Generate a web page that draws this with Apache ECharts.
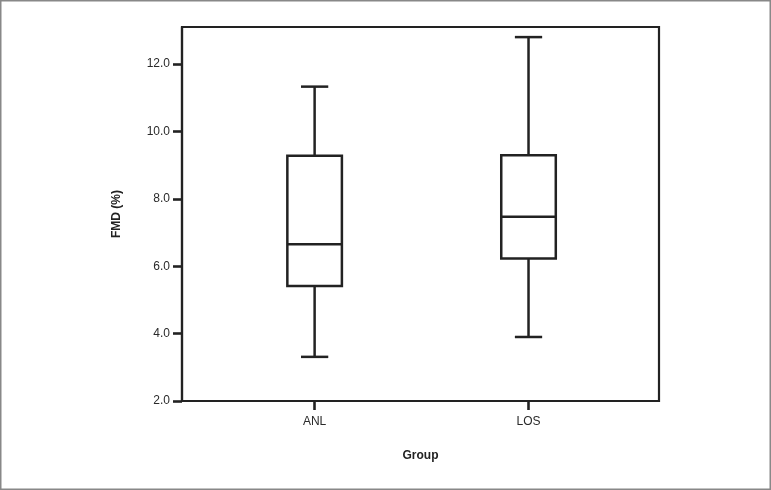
<!DOCTYPE html>
<html>
<head>
<meta charset="utf-8">
<script src="https://cdn.jsdelivr.net/npm/echarts@6/dist/echarts.min.js"></script>
<style>html,body{margin:0;padding:0;background:#fff;}#c{width:771px;height:490px;}</style>
</head>
<body>
<div id="c"></div>
<script>
var categories = ['ANL', 'LOS'];
// [min, Q1, median, Q3, max]
var anlValues = [3.31, 5.41, 6.65, 9.28, 11.33];
var losValues = [3.90, 6.23, 7.47, 9.29, 12.80];
var yTicks = [2, 4, 6, 8, 10, 12];

var boxData = [[0].concat(anlValues), [1].concat(losValues)];

var chart = echarts.init(document.getElementById('c'));
var stroke = '#222';
chart.setOption({
  animation: false,
  backgroundColor: '#fff',
  graphic: [{
    type: 'rect', x: 0, y: 0,
    shape: {x: 0.75, y: 0.75, width: 769.5, height: 488.5},
    style: {fill: 'none', stroke: '#888', lineWidth: 1.5}, silent: true, z: -10
  }],
  grid: {left: 182, top: 27, right: 112, bottom: 89, show: true, borderColor: stroke, borderWidth: 2.2, backgroundColor: 'transparent'},
  xAxis: {
    type: 'value', min: -0.62, max: 1.61,
    name: 'Group', nameLocation: 'middle', nameGap: 49,
    nameTextStyle: {fontFamily: 'Liberation Sans', fontWeight: 'bold', fontSize: 12, color: '#222'},
    axisLine: {show: true, onZero: false, lineStyle: {color: stroke, width: 2.2}},
    axisTick: {show: true, length: 9, customValues: [0, 1], lineStyle: {color: stroke, width: 2.6}},
    axisLabel: {customValues: [0, 1], margin: 15, fontFamily: 'Liberation Sans', fontSize: 12, color: '#2a2a2a',
      formatter: function (v) { return categories[Math.round(v)] || ''; }},
    splitLine: {show: false}
  },
  yAxis: {
    type: 'value', min: 2, max: 13.1,
    name: 'FMD (%)', nameLocation: 'middle', nameGap: 59, nameRotate: 90,
    nameTextStyle: {fontFamily: 'Liberation Sans', fontWeight: 'bold', fontSize: 12, color: '#222'},
    axisLine: {show: true, onZero: false, lineStyle: {color: stroke, width: 2.2}},
    axisTick: {show: true, length: 9, customValues: yTicks, lineStyle: {color: stroke, width: 2.6}},
    axisLabel: {customValues: yTicks, margin: 12, fontFamily: 'Liberation Sans', fontSize: 12, color: '#2a2a2a',
      formatter: function (v) { return v.toFixed(1); }},
    splitLine: {show: false}
  },
  series: [{
    type: 'custom',
    data: boxData,
    encode: {x: 0, y: [1, 2, 3, 4, 5]},
    renderItem: function (params, api) {
      var x = api.value(0);
      var pMin = api.coord([x, api.value(1)]);
      var pQ1 = api.coord([x, api.value(2)]);
      var pMed = api.coord([x, api.value(3)]);
      var pQ3 = api.coord([x, api.value(4)]);
      var pMax = api.coord([x, api.value(5)]);
      var bw = api.size([0.255, 0])[0];
      var cw = bw / 2;
      var cx = pMed[0];
      var st = {stroke: stroke, lineWidth: 2.5, fill: 'none'};
      return {
        type: 'group',
        children: [
          {type: 'line', shape: {x1: cx, y1: pMax[1], x2: cx, y2: pQ3[1]}, style: st},
          {type: 'line', shape: {x1: cx, y1: pQ1[1], x2: cx, y2: pMin[1]}, style: st},
          {type: 'line', shape: {x1: cx - cw / 2, y1: pMax[1], x2: cx + cw / 2, y2: pMax[1]}, style: st},
          {type: 'line', shape: {x1: cx - cw / 2, y1: pMin[1], x2: cx + cw / 2, y2: pMin[1]}, style: st},
          {type: 'rect', shape: {x: cx - bw / 2, y: pQ3[1], width: bw, height: pQ1[1] - pQ3[1]}, style: {stroke: stroke, lineWidth: 2.5, fill: '#fff'}},
          {type: 'line', shape: {x1: cx - bw / 2, y1: pMed[1], x2: cx + bw / 2, y2: pMed[1]}, style: st}
        ]
      };
    }
  }]
});
</script>
</body>
</html>
